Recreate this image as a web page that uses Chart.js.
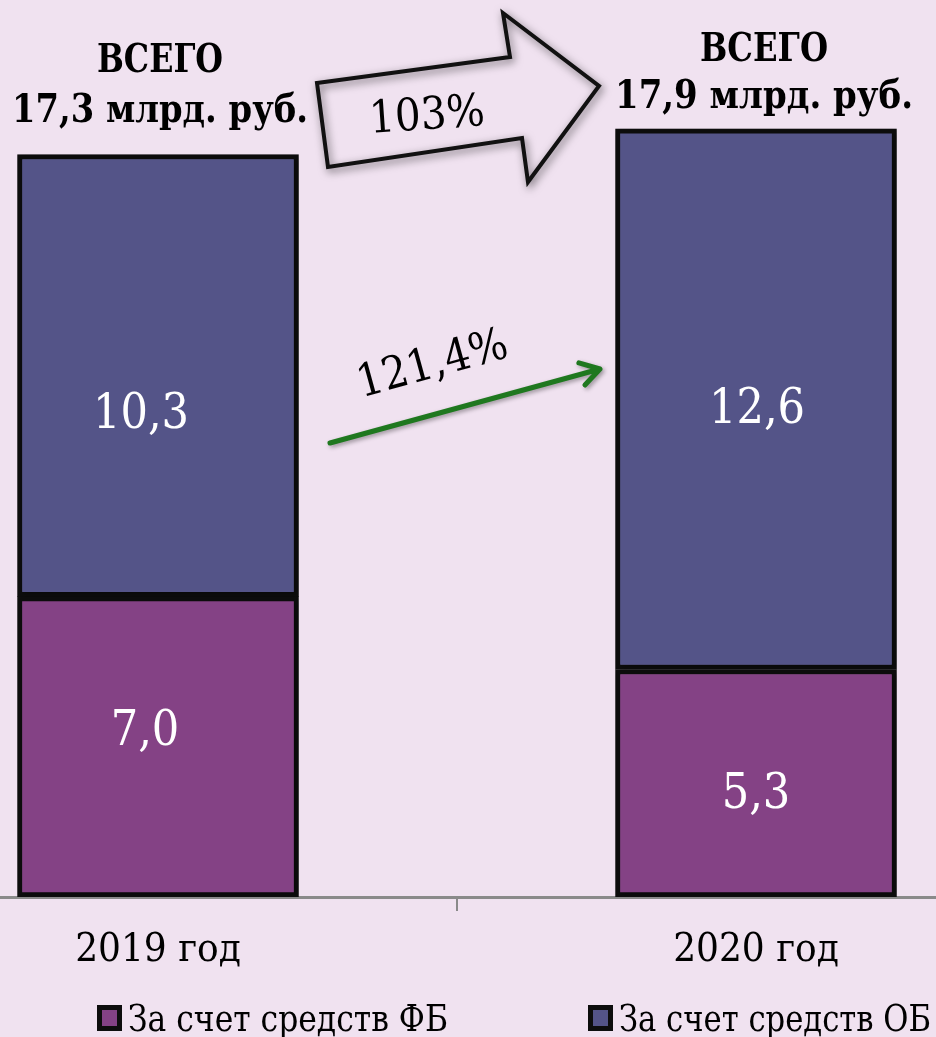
<!DOCTYPE html>
<html>
<head>
<meta charset="utf-8">
<script src="https://cdn.jsdelivr.net/npm/chart.js@4.4.1/dist/chart.umd.min.js"></script>
<style>
    html, body { margin: 0; padding: 0; background: #f0e2f0; overflow: hidden; }
    #wrap { width: 936px; height: 1037px; overflow: hidden; position: relative; }
    canvas { display: block; position: absolute; left: -141px; top: 0; }
</style>
</head>
<body>
<div id="wrap"><canvas id="FundsChart" width="1196" height="1037"></canvas></div>
<script>
// data
const categories = ['2019 год', '2020 год'];
const seriesNames = ['За счет средств ФБ', 'За счет средств ОБ'];
const federalValues = [7.0, 5.3];
const regionalValues = [10.3, 12.6];
const totalGrowth = '103%';
const regionalGrowth = '121,4%';
const yMax = 20.9;

// styles
const BG = '#f0e2f0';
const FB_COLOR = '#844285';
const OB_COLOR = '#545488';
const SERIF = '"DejaVu Serif Condensed", "DejaVu Serif", serif';
const OX = 141; // canvas sticks out on the left, page x = canvas x - OX

const fmt = v => v.toFixed(1).replace('.', ',');
const totals = categories.map((c, i) => fmt(federalValues[i] + regionalValues[i]) + ' млрд. руб.');

// small nudges of the value labels, px [dx, dy] per dataset / bar
const labelShift = [[[-13, -14], [0, 12]], [[-17, 40], [1, 11]]];

function text(ctx, str, x, y, font, color, maxW) {
    ctx.font = font;
    ctx.fillStyle = color;
    ctx.fillText(str, x, y, maxW);
}

const decor = {
    id: 'decor',
    beforeDraw(chart) {
        const ctx = chart.ctx;
        ctx.save();
        ctx.fillStyle = BG;
        ctx.fillRect(0, 0, chart.width, chart.height);
        ctx.restore();
    },
    beforeDatasetsDraw(chart) {
        const ctx = chart.ctx;
        ctx.save();
        ctx.shadowColor = 'rgba(0,0,0,0.35)';
        ctx.shadowBlur = 6;
        ctx.shadowOffsetX = 2;
        ctx.shadowOffsetY = 2;
    },
    afterDatasetsDraw(chart) {
        const ctx = chart.ctx;
        ctx.restore();
        ctx.save();
        ctx.textAlign = 'center';
        ctx.textBaseline = 'middle';
        chart.data.datasets.forEach((ds, di) => {
            chart.getDatasetMeta(di).data.forEach((bar, i) => {
                const s = labelShift[di][i];
                text(ctx, fmt(ds.data[i]), bar.x + s[0], (bar.y + bar.base) / 2 + s[1],
                    '48px ' + SERIF, '#ffffff');
            });
        });
        ctx.restore();
    },
    afterDraw(chart) {
        const ctx = chart.ctx;
        ctx.save();
        ctx.translate(OX, 0);

        // totals above the bars
        ctx.textAlign = 'center';
        ctx.textBaseline = 'alphabetic';
        const bold = 'bold 39px ' + SERIF;
        text(ctx, 'ВСЕГО', 160, 72, bold, '#000', 126);
        text(ctx, totals[0], 160, 122, bold, '#000', 296);
        text(ctx, 'ВСЕГО', 764, 61, bold, '#000', 128);
        text(ctx, totals[1], 764, 108, bold, '#000', 298);

        // big outlined arrow with total growth
        const pts = [[317, 83], [510, 57], [503, 13], [599, 86], [528, 182], [522, 138], [328, 167]];
        ctx.beginPath();
        pts.forEach((p, i) => i ? ctx.lineTo(p[0], p[1]) : ctx.moveTo(p[0], p[1]));
        ctx.closePath();
        ctx.fillStyle = BG;
        ctx.fill();
        ctx.save();
        ctx.shadowColor = 'rgba(0,0,0,0.55)';
        ctx.shadowBlur = 8;
        ctx.shadowOffsetX = 2;
        ctx.shadowOffsetY = 3;
        ctx.strokeStyle = '#111';
        ctx.lineWidth = 4;
        ctx.lineJoin = 'miter';
        ctx.stroke();
        ctx.restore();

        ctx.save();
        ctx.translate(428, 129);
        ctx.rotate(-4 * Math.PI / 180);
        text(ctx, totalGrowth, 0, 0, '45px ' + SERIF, '#000', 118);
        ctx.restore();

        // green arrow with regional growth
        const x0 = 330, y0 = 443, x1 = 600, y1 = 369;
        const ang = Math.atan2(y1 - y0, x1 - x0);
        ctx.save();
        ctx.shadowColor = 'rgba(0,0,0,0.35)';
        ctx.shadowBlur = 4;
        ctx.shadowOffsetX = 2;
        ctx.shadowOffsetY = 2;
        ctx.strokeStyle = '#1f781f';
        ctx.lineWidth = 5;
        ctx.lineCap = 'round';
        ctx.lineJoin = 'round';
        ctx.beginPath();
        ctx.moveTo(x0, y0);
        ctx.lineTo(x1, y1);
        const hl = 22, ha = 0.55;
        ctx.moveTo(x1 - hl * Math.cos(ang - ha), y1 - hl * Math.sin(ang - ha));
        ctx.lineTo(x1, y1);
        ctx.lineTo(x1 - hl * Math.cos(ang + ha), y1 - hl * Math.sin(ang + ha));
        ctx.stroke();
        ctx.restore();

        ctx.save();
        ctx.translate(436, 377);
        ctx.rotate(ang);
        text(ctx, regionalGrowth, 0, 0, '45px ' + SERIF, '#000', 156);
        ctx.restore();

        // legend
        ctx.textAlign = 'left';
        const legend = [
            { x: 97, tx: 128, w: 320, color: FB_COLOR },
            { x: 588, tx: 619, w: 312, color: OB_COLOR },
        ];
        legend.forEach((l, i) => {
            ctx.fillStyle = '#0d0d0d';
            ctx.fillRect(l.x, 1005, 25, 26);
            ctx.fillStyle = l.color;
            ctx.fillRect(l.x + 5, 1010, 15, 16);
            text(ctx, seriesNames[i], l.tx, 1031, '37px ' + SERIF, '#000', l.w);
        });

        ctx.restore();
    }
};

const canvas = document.getElementById('FundsChart');
new Chart(canvas, {
    type: 'bar',
    data: {
        labels: categories,
        datasets: [
            { label: seriesNames[0], data: federalValues, backgroundColor: FB_COLOR },
            { label: seriesNames[1], data: regionalValues, backgroundColor: OB_COLOR },
        ]
    },
    options: {
        responsive: false,
        animation: false,
        devicePixelRatio: 1,
        layout: { padding: 0 },
        datasets: {
            bar: { barThickness: 281, borderColor: '#0d0d0d', borderWidth: 5, borderSkipped: false }
        },
        plugins: {
            legend: { display: false },
            tooltip: { enabled: false }
        },
        scales: {
            x: {
                stacked: true,
                offset: true,
                grid: { offset: true, drawOnChartArea: false, drawTicks: true, tickLength: 14, color: '#8a8a8a', lineWidth: 2 },
                border: { display: true, color: '#8a8a8a', width: 3 },
                ticks: { color: '#000', font: { family: SERIF, size: 40 }, padding: 16, maxRotation: 0 },
                afterFit: s => { s.height = 140; }
            },
            y: { stacked: true, display: false, min: 0, max: yMax }
        }
    },
    plugins: [decor]
});
</script>
</body>
</html>
